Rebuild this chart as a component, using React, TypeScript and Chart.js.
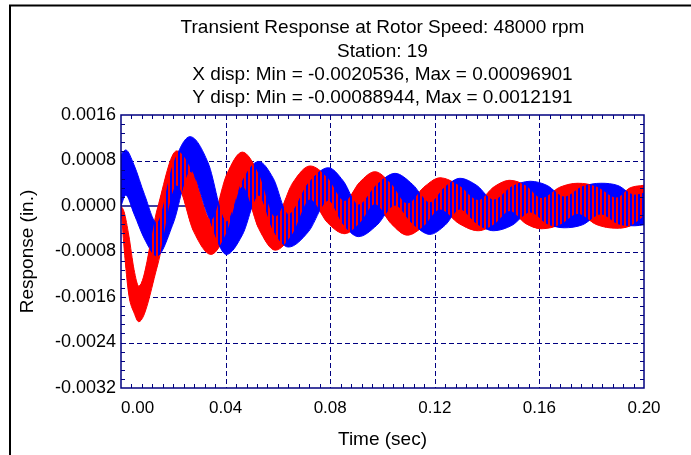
import React, { useEffect, useRef } from 'react';
import { Chart, registerables } from 'chart.js';

Chart.register(...registerables);

// ---------- text ----------
const titleLines = [
  'Transient Response at Rotor Speed: 48000 rpm',
  'Station: 19',
  'X disp: Min = -0.0020536, Max = 0.00096901',
  'Y disp: Min = -0.00088944, Max = 0.0012191',
];
const xAxisTitle = 'Time (sec)';
const yAxisTitle = 'Response (in.)';

// ---------- axes ----------
const xTicks = [0, 0.04, 0.08, 0.12, 0.16, 0.2];
const yTicks = [-0.0032, -0.0024, -0.0016, -0.0008, 0, 0.0008, 0.0016];

// ---------- X disp (red): envelope of the vibration band ----------
const timeX = [0, 0.0012, 0.003, 0.005, 0.0068, 0.014, 0.0213, 0.0278, 0.0344, 0.0404, 0.0464, 0.0527, 0.059, 0.0657, 0.0723, 0.0789, 0.0855, 0.0913, 0.0971, 0.1033, 0.1095, 0.1158, 0.122, 0.1293, 0.1366, 0.1427, 0.1487, 0.1548, 0.1608, 0.1678, 0.1747, 0.182, 0.1894, 0.1947, 0.2];
const xUpper = [0, -0.000104, -0.000522, -0.00112, -0.001409, -0.00003, 0.000969, 0.00056, -0.000243, 0.00055, 0.000948, 0.00056, -0.000186, 0.00041, 0.000704, 0.0005, 0.000087, 0.00042, 0.000603, 0.00039, 0.000043, 0.00033, 0.000496, 0.00036, 0.000104, 0.00034, 0.000452, 0.00036, 0.000139, 0.00033, 0.0004, 0.00034, 0.000148, 0.00032, 0.000365];
const xLower = [0, -0.000748, -0.001565, -0.001878, -0.002035, -0.00104, 0.00036, -0.00045, -0.000852, -0.00046, 0.000339, -0.0004, -0.000777, -0.00048, 0.000113, -0.00029, -0.000487, -0.0003, 0.00003, -0.00031, -0.000513, -0.00035, -0.000061, -0.00031, -0.000435, -0.00032, -0.000087, -0.00031, -0.0004, -0.00033, -0.000139, -0.00033, -0.000391, -0.00035, -0.000174];

// ---------- Y disp (blue): envelope of the vibration band ----------
const timeY = [0, 0.0018, 0.005, 0.009, 0.0137, 0.02, 0.0264, 0.0333, 0.0403, 0.0465, 0.0526, 0.0583, 0.064, 0.0717, 0.0793, 0.085, 0.0908, 0.0978, 0.1048, 0.1115, 0.1181, 0.1239, 0.1296, 0.1361, 0.1425, 0.1495, 0.1565, 0.163, 0.1695, 0.1765, 0.1835, 0.19, 0.1965, 0.2];
const yUpper = [0.000904, 0.000986, 0.00072, 0.0002, -0.000296, 0.00073, 0.001219, 0.00076, -0.000278, 0.00044, 0.000783, 0.00048, -0.000148, 0.0004, 0.000673, 0.00044, 0.000017, 0.00037, 0.000574, 0.00038, 0.000057, 0.00033, 0.000487, 0.00036, 0.000104, 0.00034, 0.000435, 0.00036, 0.000157, 0.00034, 0.0004, 0.00036, 0.000191, 0.000226];
const yLower = [0, 0.000191, -0.00014, -0.00058, -0.000878, -0.0003, 0.000609, -0.00017, -0.000852, -0.0005, 0.000191, -0.00043, -0.000722, -0.00045, 0.000099, -0.00032, -0.000539, -0.00034, 0.000017, -0.00031, -0.000499, -0.00034, -0.000052, -0.00031, -0.000435, -0.00034, -0.000104, -0.00031, -0.000383, -0.00033, -0.000139, -0.00031, -0.000348, -0.00033];

const RED = '#ff0000';
const BLUE = '#0000ff';
const NAVY = '#000080';
const FONT = "'Liberation Sans', Arial, sans-serif";

const pts = (t: number[], v: number[]) => t.map((x, i) => ({ x, y: v[i] }));

const decor = {
  id: 'decor',
  beforeDatasetsDraw(chart: any) {
    const { ctx, chartArea: a, scales } = chart;
    const xs = scales.x;
    const ys = scales.y;
    ctx.save();
    ctx.strokeStyle = NAVY;
    ctx.lineWidth = 1;
    ctx.setLineDash([5, 3]);
    xs.ticks.forEach((tk: any) => {
      if (tk.value <= xs.min || tk.value >= xs.max) return;
      const px = Math.round(xs.getPixelForValue(tk.value)) + 0.5;
      ctx.beginPath();
      ctx.moveTo(px, a.top);
      ctx.lineTo(px, a.bottom);
      ctx.stroke();
    });
    ys.ticks.forEach((tk: any) => {
      if (tk.value <= ys.min || tk.value >= ys.max || Math.abs(tk.value) < 1e-12) return;
      const py = Math.round(ys.getPixelForValue(tk.value)) + 0.5;
      ctx.beginPath();
      ctx.moveTo(a.left, py);
      ctx.lineTo(a.right, py);
      ctx.stroke();
    });
    ctx.setLineDash([]);
    ctx.lineWidth = 1.5;
    const pz = ys.getPixelForValue(0);
    ctx.beginPath();
    ctx.moveTo(a.left, pz);
    ctx.lineTo(a.right, pz);
    ctx.stroke();
    ctx.restore();
  },
  afterDatasetsDraw(chart: any) {
    const { ctx, chartArea: a, scales } = chart;
    const xs = scales.x;
    const ys = scales.y;
    ctx.save();
    ctx.strokeStyle = NAVY;
    ctx.lineWidth = 1;
    const L = 4;
    for (let k = 1; k < 50; k++) {
      if (k % 10 === 0) continue;
      const px = Math.round(xs.getPixelForValue(k * 0.004)) + 0.5;
      ctx.beginPath();
      ctx.moveTo(px, a.bottom);
      ctx.lineTo(px, a.bottom - L);
      ctx.moveTo(px, a.top);
      ctx.lineTo(px, a.top + L);
      ctx.stroke();
    }
    for (let k = 1; k < 30; k++) {
      if (k % 5 === 0) continue;
      const py = Math.round(ys.getPixelForValue(-0.0032 + k * 0.00016)) + 0.5;
      ctx.beginPath();
      ctx.moveTo(a.left, py);
      ctx.lineTo(a.left + L, py);
      ctx.moveTo(a.right, py);
      ctx.lineTo(a.right - L, py);
      ctx.stroke();
    }
    ctx.lineWidth = 1.5;
    ctx.strokeRect(a.left, a.top, a.right - a.left, a.bottom - a.top);
    ctx.restore();
  },
  afterDraw(chart: any) {
    const { ctx, chartArea: a, scales } = chart;
    ctx.save();
    ctx.fillStyle = '#000';
    ctx.textAlign = 'center';
    ctx.textBaseline = 'middle';
    ctx.font = `19px ${FONT}`;
    const cx = (a.left + a.right) / 2;
    const ys = [28, 51.5, 75, 98];
    titleLines.forEach((s, i) => ctx.fillText(s, cx, ys[i]));
    ctx.font = `17px ${FONT}`;
    ctx.textAlign = 'left';
    ctx.fillText(Number(xTicks[0]).toFixed(2), a.left, scales.x.top + 10 + (17 * 1.2) / 2);
    ctx.strokeStyle = '#000';
    ctx.lineWidth = 2;
    ctx.beginPath();
    ctx.moveTo(10, 455);
    ctx.lineTo(10, 5.5);
    ctx.lineTo(691, 5.5);
    ctx.stroke();
    ctx.restore();
  },
};

export default function App() {
  const ref = useRef<HTMLCanvasElement | null>(null);
  useEffect(() => {
    const canvas = ref.current;
    if (!canvas) return;
    const ctx = canvas.getContext('2d')!;
    const pc = document.createElement('canvas');
    pc.width = 4;
    pc.height = 4;
    const pctx = pc.getContext('2d')!;
    pctx.fillStyle = RED;
    pctx.fillRect(0, 0, 2, 4);
    const stripes = ctx.createPattern(pc, 'repeat')!;

    const common = { pointRadius: 0, cubicInterpolationMode: 'monotone' as const };
    const chart = new Chart(ctx, {
      type: 'line',
      data: {
        datasets: [
          { label: 'X disp', data: pts(timeX, xUpper), borderWidth: 0, backgroundColor: stripes, fill: '+1', ...common },
          { label: 'X disp low', data: pts(timeX, xLower), borderWidth: 0, fill: false, ...common },
          { label: 'Y disp', data: pts(timeY, yUpper), borderColor: BLUE, borderWidth: 1, backgroundColor: BLUE, fill: '+1', ...common },
          { label: 'Y disp low', data: pts(timeY, yLower), borderColor: BLUE, borderWidth: 1, fill: false, ...common },
          { label: 'X disp', data: pts(timeX, xUpper), borderColor: RED, borderWidth: 1, backgroundColor: RED, fill: '+1', ...common },
          { label: 'X disp low', data: pts(timeX, xLower), borderColor: RED, borderWidth: 1, fill: false, ...common },
        ],
      },
      options: {
        responsive: false,
        animation: false,
        layout: { padding: { top: 115, right: 47, bottom: 0, left: 0 } },
        plugins: { legend: { display: false }, tooltip: { enabled: false }, title: { display: false } },
        scales: {
          x: {
            type: 'linear',
            min: 0,
            max: 0.2,
            grid: { display: false, drawTicks: false },
            border: { display: false },
            afterBuildTicks: (s: any) => { s.ticks = xTicks.map((v) => ({ value: v })); },
            afterFit: (s: any) => { s.height = 67; },
            ticks: {
              autoSkip: false,
              maxRotation: 0,
              padding: 10,
              color: '#000',
              font: { family: FONT, size: 17 },
              callback: (v: any) => (v === xTicks[0] ? '' : Number(v).toFixed(2)),
            },
            title: { display: true, text: xAxisTitle, color: '#000', font: { family: FONT, size: 19 }, padding: { top: 0, bottom: 4 } },
          },
          y: {
            type: 'linear',
            min: -0.0032,
            max: 0.0016,
            grid: { display: false, drawTicks: false },
            border: { display: false },
            afterBuildTicks: (s: any) => { s.ticks = yTicks.map((v) => ({ value: v })); },
            afterFit: (s: any) => { s.width = 121; },
            ticks: {
              autoSkip: false,
              padding: 5,
              color: '#000',
              font: { family: FONT, size: 18 },
              callback: (v: any) => (Math.abs(v) < 1e-12 ? '0.0000' : Number(v).toFixed(4)),
            },
            title: { display: true, text: yAxisTitle, color: '#000', font: { family: FONT, size: 19 }, padding: { top: 16, bottom: 0 } },
          },
        },
      },
      plugins: [decor],
    });
    return () => chart.destroy();
  }, []);

  return (
    <div style={{ position: 'absolute', left: 0, top: 0, width: 691, height: 455, background: '#fff' }}>
      <canvas ref={ref} width={691} height={455} />
    </div>
  );
}
